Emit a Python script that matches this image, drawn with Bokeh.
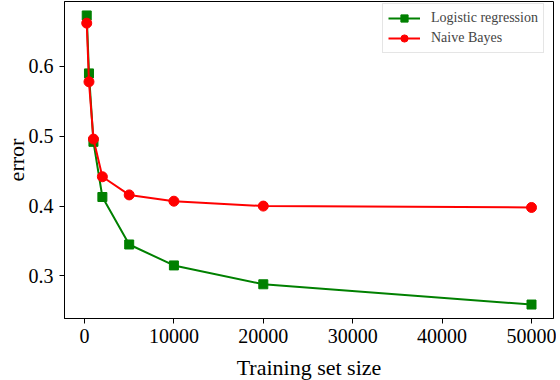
from bokeh.plotting import figure
from bokeh.models import FixedTicker, NumeralTickFormatter, Range1d, Legend, LegendItem
from bokeh.embed import file_html
from bokeh.resources import INLINE

sizes = [250, 500, 1000, 2000, 5000, 10000, 20000, 50000]
logreg = [0.673, 0.590, 0.492, 0.413, 0.345, 0.315, 0.288, 0.259]
naive_bayes = [0.662, 0.578, 0.496, 0.442, 0.416, 0.407, 0.400, 0.398]
x_ticks = [0, 10000, 20000, 30000, 40000, 50000]
y_ticks = [0.3, 0.4, 0.5, 0.6]

FONT = "Liberation Serif"

p = figure(frame_width=489, frame_height=317, output_backend="svg", toolbar_location=None,
           x_range=Range1d(-2237, 52460), y_range=Range1d(0.239, 0.693),
           min_border_left=10, min_border_right=3, min_border_top=1, min_border_bottom=10)

p.xgrid.visible = False
p.ygrid.visible = False
p.outline_line_color = "black"
p.outline_line_width = 1
p.outline_line_alpha = 1

for ax in (p.xaxis[0], p.yaxis[0]):
    ax.major_label_text_font = FONT
    ax.major_label_text_font_size = "20px"
    ax.axis_label_text_font = FONT
    ax.axis_label_text_font_size = "22px"
    ax.axis_label_text_font_style = "normal"
    ax.major_tick_out = 5
    ax.major_tick_in = 0
    ax.minor_tick_out = 0
    ax.minor_tick_in = 0
    ax.axis_line_color = "black"
    ax.major_tick_line_color = "black"
    ax.major_label_text_color = "black"
    ax.axis_label_text_color = "black"

p.xaxis.ticker = FixedTicker(ticks=x_ticks)
p.xaxis.formatter = NumeralTickFormatter(format="0")
p.yaxis.ticker = FixedTicker(ticks=y_ticks)
p.yaxis.formatter = NumeralTickFormatter(format="0.0")
p.xaxis.axis_label = "Training set size"
p.yaxis.axis_label = "error"
p.xaxis.major_label_standoff = 5
p.xaxis.axis_label_standoff = 9
p.yaxis.major_label_standoff = 6
p.yaxis.axis_label_standoff = -3

l1 = p.line(sizes, logreg, line_color="#008000", line_width=2)
s1 = p.scatter(sizes, logreg, marker="square", size=9, fill_color="#008000", line_color="#008000")
l2 = p.line(sizes, naive_bayes, line_color="#ff0000", line_width=2)
s2 = p.scatter(sizes, naive_bayes, marker="circle", size=10, fill_color="#ff0000", line_color="#ff0000")

legend = Legend(items=[LegendItem(label="Logistic regression", renderers=[l1, s1]),
                       LegendItem(label="Naive Bayes", renderers=[l2, s2])],
                location=(318, 265), margin=0, padding=5, spacing=2,
                glyph_width=32, glyph_height=18, label_height=18, label_standoff=11,
                label_text_font=FONT, label_text_font_size="14px",
                border_line_color="#cccccc", border_line_width=1,
                background_fill_alpha=0.8)
p.add_layout(legend)

open("out.html", "w").write(file_html(p, INLINE))
